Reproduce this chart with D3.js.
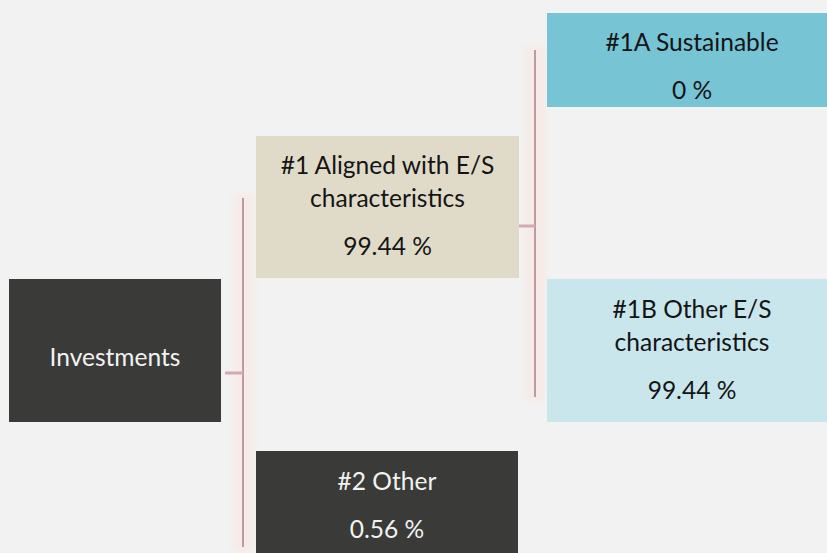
<!DOCTYPE html>
<html><head><meta charset="utf-8">
<script src="https://cdn.jsdelivr.net/npm/d3@7"></script>
<style>
html,body{margin:0;padding:0;background:#f2f2f2;}
svg{display:block;}
</style></head>
<body>
<svg id="chart" width="827" height="553"></svg>
<script>
// ---- data ----
const nodeIds = ["inv", "n1", "n2", "n1a", "n1b"];
const nodeParents = [null, "inv", "inv", "n1", "n1"];
const nodeLabels = [["Investments"], ["#1 Aligned with E/S", "characteristics"], ["#2 Other"], ["#1A Sustainable"], ["#1B Other E/S", "characteristics"]];
const nodeValues = [null, 99.44, 0.56, 0, 99.44];

// ---- layout (styles / positions) ----
const layout = {
  inv: {x: 9,   y: 279, w: 212, h: 143, fill: "#3a3b38", text: "#f2f2f2", b0: 366},
  n1:  {x: 256, y: 136, w: 263, h: 142, fill: "#e0dbc9", text: "#141414", b0: 174},
  n2:  {x: 256, y: 451, w: 262, h: 110, fill: "#3a3b38", text: "#f2f2f2", b0: 490},
  n1a: {x: 547, y: 13,  w: 290, h: 94,  fill: "#77c4d4", text: "#141414", b0: 51},
  n1b: {x: 547, y: 279, w: 290, h: 143, fill: "#c8e6ec", text: "#141414", b0: 318}
};
const connectors = [
  {parent: "inv", x: 243, y0: 198, y1: 547, stubX: 225, stubY: 373},
  {parent: "n1",  x: 535, y0: 50,  y1: 397, stubX: 519, stubY: 226}
];

const svg = d3.select("#chart");
const FONT = "Lato, 'Open Sans', sans-serif";

// fit font size so "characteristics" is ~155px wide (Calibri-like metrics)
const probe = svg.append("text").attr("font-family", FONT).attr("font-size", 100).text("characteristics");
const pw = probe.node().getComputedTextLength();
probe.remove();
const fs = 100 * 155 / pw;

const nodes = nodeIds.map((id, i) => ({id, parent: nodeParents[i], lines: nodeLabels[i], value: nodeValues[i]}));
const root = d3.stratify().id(d => d.id).parentId(d => d.parent)(nodes);

const defs = svg.append("defs");
const soft = defs.append("filter").attr("id", "soft").attr("filterUnits", "userSpaceOnUse")
  .attr("x", 0).attr("y", 0).attr("width", 827).attr("height", 553);
soft.append("feGaussianBlur").attr("stdDeviation", 0.7);
const band = defs.append("filter").attr("id", "band").attr("filterUnits", "userSpaceOnUse")
  .attr("x", 0).attr("y", 0).attr("width", 827).attr("height", 553);
band.append("feGaussianBlur").attr("stdDeviation", 3);

// connectors
connectors.forEach(c => {
  const g = svg.append("g");
  g.append("rect").attr("x", c.x - 10).attr("y", c.y0 - 4).attr("width", 21).attr("height", c.y1 - c.y0 + 8)
    .attr("fill", "#f5ebe7").attr("filter", "url(#band)");
  g.append("rect").attr("x", c.x - 1).attr("y", c.y0).attr("width", 2).attr("height", c.y1 - c.y0)
    .attr("fill", "#c299a2").attr("filter", "url(#soft)");
  g.append("rect").attr("x", c.stubX).attr("y", c.stubY - 1.5).attr("width", c.x - c.stubX).attr("height", 3)
    .attr("fill", "#d4a9b1").attr("filter", "url(#soft)");
});

// boxes
const boxes = svg.selectAll("g.node").data(root.descendants()).join("g").attr("class", "node");
boxes.append("rect")
  .attr("x", d => layout[d.id].x).attr("y", d => layout[d.id].y)
  .attr("width", d => layout[d.id].w).attr("height", d => layout[d.id].h)
  .attr("fill", d => layout[d.id].fill);

const fmt = v => (v === 0 ? "0" : d3.format(".2f")(v)) + " %";

boxes.each(function(d) {
  const L = layout[d.id];
  const g = d3.select(this);
  const cx = L.x + L.w / 2;
  const lines = d.data.lines;
  lines.forEach((l, i) => {
    g.append("text").attr("x", cx).attr("y", L.b0 + i * 33).attr("text-anchor", "middle")
      .attr("font-family", FONT).attr("font-size", fs).attr("fill", L.text).text(l);
  });
  if (d.data.value !== null) {
    g.append("text").attr("x", cx).attr("y", L.b0 + (lines.length - 1) * 33 + 48).attr("text-anchor", "middle")
      .attr("font-family", FONT).attr("font-size", fs).attr("fill", L.text).text(fmt(d.data.value));
  }
});
</script>
</body></html>
